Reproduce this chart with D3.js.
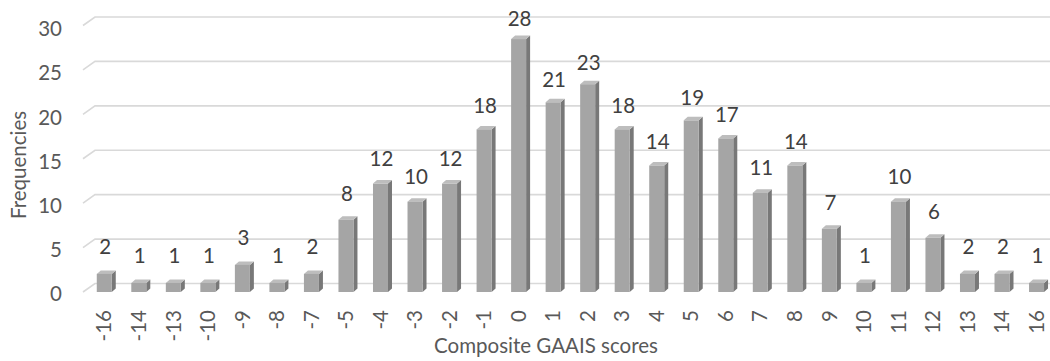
<!DOCTYPE html>
<html>
<head>
<meta charset="utf-8">
<script src="https://cdn.jsdelivr.net/npm/d3@7/dist/d3.min.js"></script>
<style>
  html, body { margin: 0; padding: 0; background: #ffffff; }
  svg { display: block; }
  text { font-family: Lato, "Open Sans", sans-serif; }
</style>
</head>
<body>
<svg id="chart" width="1050" height="361"></svg>
<script>
// ---- data ----
const categories = ["-16","-14","-13","-10","-9","-8","-7","-5","-4","-3","-2","-1","0","1","2","3","4","5","6","7","8","9","10","11","12","13","14","16"];
const frequencies = [2,1,1,1,3,1,2,8,12,10,12,18,28,21,23,18,14,19,17,11,14,7,1,10,6,2,2,1];
const yTicks = [0,5,10,15,20,25,30];
const xTitle = "Composite GAAIS scores";
const yTitle = "Frequencies";

// ---- layout ----
const svg = d3.select("#chart");
const W = 1050, H = 361;
const FS = "20.5px";

const x = d3.scaleBand().domain(categories).range([87, 1053.8]).padding(0);
const barW = 15;
const depthX = 4, depthY = 3.5;

const yBar = d3.scaleLinear().domain([0, 30]).range([292, 21]);     // bar front faces
const yWall = d3.scaleLinear().domain([0, 30]).range([283.5, 17]);  // back wall gridlines
const yTickPos = d3.scaleLinear().domain([0, 30]).range([294, 29.3]); // tick labels
const yLabel = d3.scaleLinear().domain([0, 30]).range([271.5, 8.1]);  // data label baselines

const wallLeft = 95, floorDX = 12, floorDY = 8.5;

// gridlines (back wall + side wall diagonal)
const grid = svg.append("g");
yTicks.forEach(v => {
  const yy = yWall(v);
  grid.append("path")
    .attr("d", `M${wallLeft - floorDX},${yy + floorDY} L${wallLeft},${yy} L${W},${yy}`)
    .attr("fill", "none")
    .attr("stroke", "#d9d9d9")
    .attr("stroke-width", 1.6);
});

// y axis tick labels
const yAxis = d3.axisLeft(yTickPos).tickValues(yTicks).tickSize(0).tickPadding(0);
const gy = svg.append("g").attr("transform", "translate(62,0)").call(yAxis);
gy.select(".domain").remove();
gy.selectAll("text")
  .attr("fill", "#595959")
  .style("font-size", FS)
  .style("font-family", "Lato, 'Open Sans', sans-serif");

// bars (3D)
const cx = d => x(d) + x.bandwidth() / 2;
const bars = svg.append("g");
categories.forEach((c, i) => {
  const v = frequencies[i];
  const x0 = cx(c) - barW / 2, x1 = x0 + barW;
  const yt = yBar(v), yb = yBar(0);
  const g = bars.append("g");
  // side face
  g.append("path")
    .attr("d", `M${x1},${yb} L${x1},${yt} L${x1 + depthX},${yt - depthY} L${x1 + depthX},${yb - depthY} Z`)
    .attr("fill", "#787878");
  // top face
  g.append("path")
    .attr("d", `M${x0},${yt} L${x0 + depthX},${yt - depthY} L${x1 + depthX},${yt - depthY} L${x1},${yt} Z`)
    .attr("fill", "#bdbdbd");
  // front face
  g.append("rect")
    .attr("x", x0).attr("y", yt)
    .attr("width", barW).attr("height", yb - yt)
    .attr("fill", "#a5a5a5");
});

// data labels
svg.append("g").selectAll("text")
  .data(categories)
  .join("text")
  .attr("x", (d) => cx(d) + 1)
  .attr("y", (d, i) => yLabel(frequencies[i]))
  .attr("text-anchor", "middle")
  .attr("fill", "#404040")
  .style("font-size", FS)
  .text((d, i) => frequencies[i]);

// x axis labels (rotated)
const xAxis = d3.axisBottom(x).tickSize(0).tickPadding(0);
const gx = svg.append("g").call(xAxis);
gx.select(".domain").remove();
gx.selectAll(".tick").attr("transform", d => `translate(${cx(d)},310)`);
gx.selectAll("text")
  .attr("transform", "rotate(-90)")
  .attr("x", 0).attr("y", 0)
  .attr("dy", "0.35em")
  .attr("text-anchor", "end")
  .attr("fill", "#595959")
  .style("font-size", FS)
  .style("font-family", "Lato, 'Open Sans', sans-serif");

// axis titles
svg.append("text")
  .attr("x", 546).attr("y", 353)
  .attr("text-anchor", "middle")
  .attr("fill", "#595959")
  .style("font-size", FS)
  .text(xTitle);

svg.append("text")
  .attr("transform", "translate(26,165) rotate(-90)")
  .attr("text-anchor", "middle")
  .attr("fill", "#595959")
  .style("font-size", FS)
  .text(yTitle);
</script>
</body>
</html>
